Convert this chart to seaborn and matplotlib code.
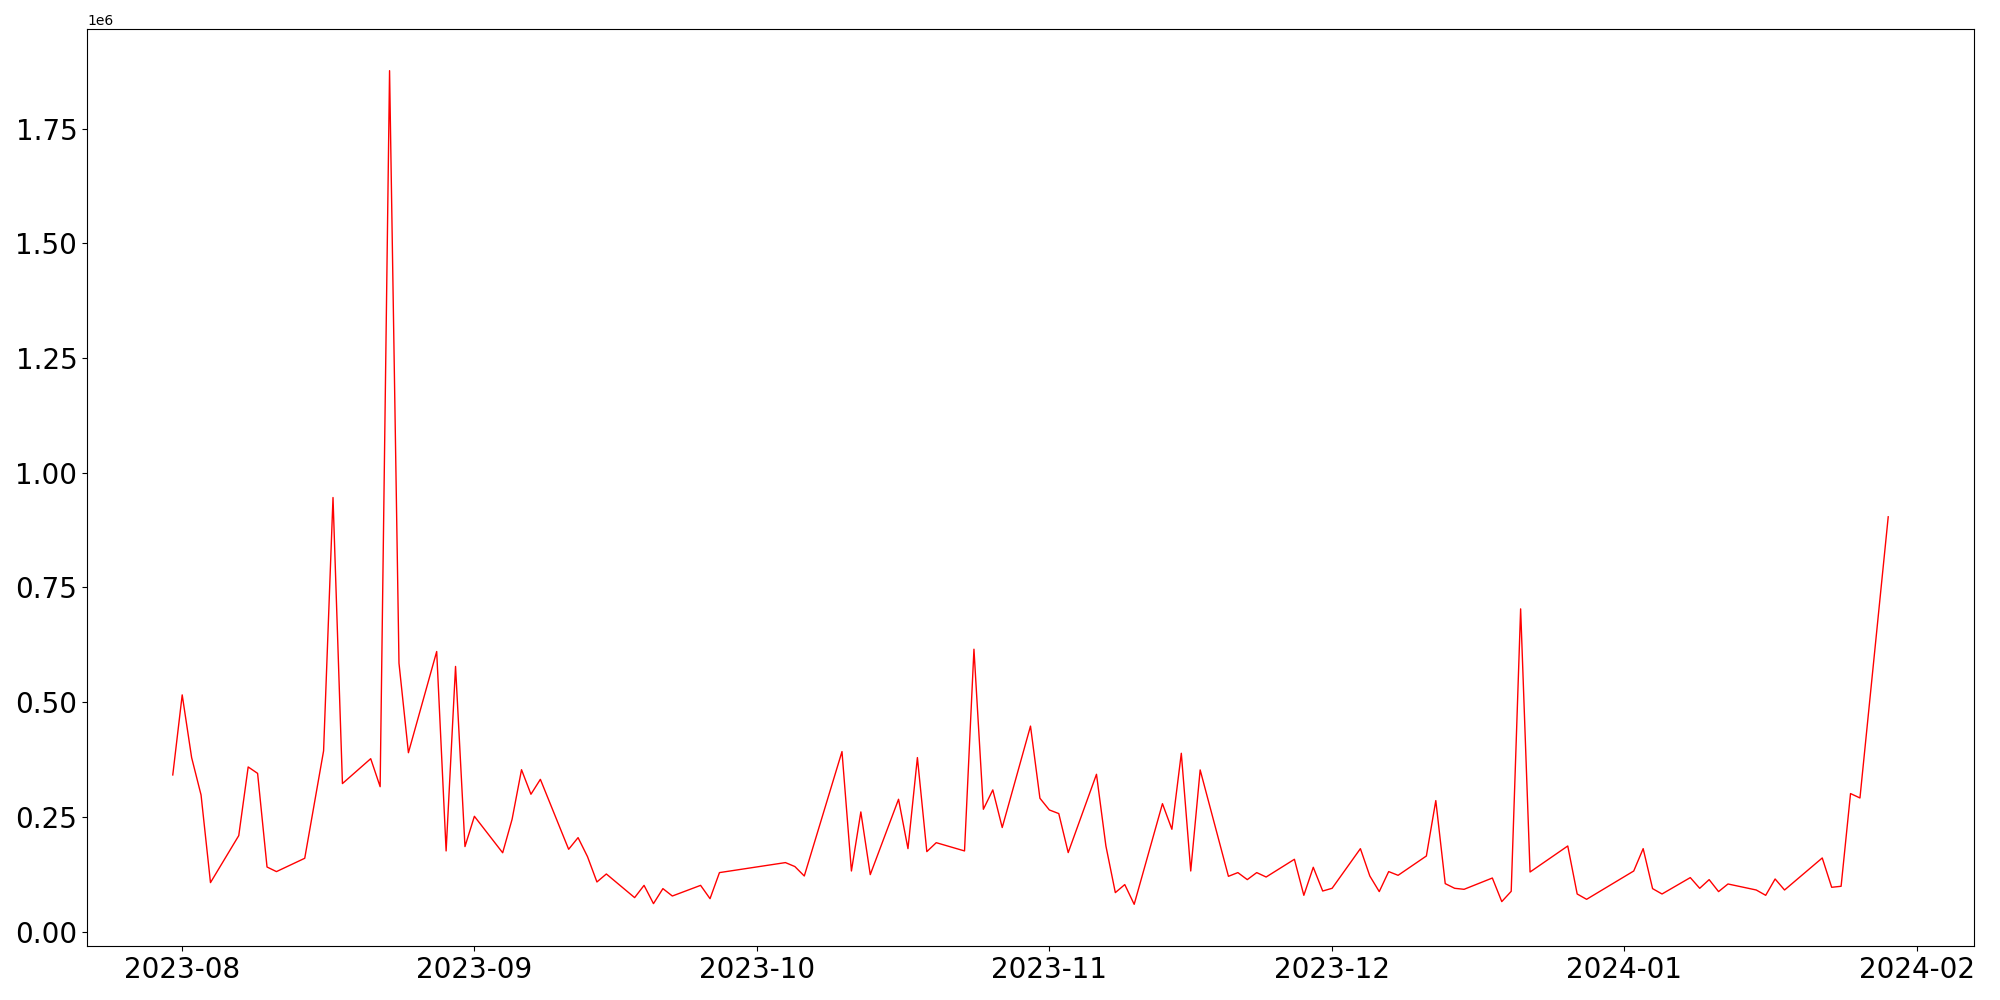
import matplotlib
matplotlib.use("Agg")
import matplotlib.pyplot as plt
import seaborn as sns
import pandas as pd

dates = ["2023-07-31","2023-08-01","2023-08-02","2023-08-03","2023-08-04","2023-08-07","2023-08-08","2023-08-09","2023-08-10","2023-08-11",
         "2023-08-14","2023-08-16","2023-08-17","2023-08-18","2023-08-21","2023-08-22","2023-08-23","2023-08-24","2023-08-25","2023-08-28",
         "2023-08-29","2023-08-30","2023-08-31","2023-09-01","2023-09-04","2023-09-05","2023-09-06","2023-09-07","2023-09-08","2023-09-11",
         "2023-09-12","2023-09-13","2023-09-14","2023-09-15","2023-09-18","2023-09-19","2023-09-20","2023-09-21","2023-09-22","2023-09-25",
         "2023-09-26","2023-09-27","2023-10-04","2023-10-05","2023-10-06","2023-10-10","2023-10-11","2023-10-12","2023-10-13","2023-10-16",
         "2023-10-17","2023-10-18","2023-10-19","2023-10-20","2023-10-23","2023-10-24","2023-10-25","2023-10-26","2023-10-27","2023-10-30",
         "2023-10-31","2023-11-01","2023-11-02","2023-11-03","2023-11-06","2023-11-07","2023-11-08","2023-11-09","2023-11-10","2023-11-13",
         "2023-11-14","2023-11-15","2023-11-16","2023-11-17","2023-11-20","2023-11-21","2023-11-22","2023-11-23","2023-11-24","2023-11-27",
         "2023-11-28","2023-11-29","2023-11-30","2023-12-01","2023-12-04","2023-12-05","2023-12-06","2023-12-07","2023-12-08","2023-12-11",
         "2023-12-12","2023-12-13","2023-12-14","2023-12-15","2023-12-18","2023-12-19","2023-12-20","2023-12-21","2023-12-22","2023-12-26",
         "2023-12-27","2023-12-28","2024-01-02","2024-01-03","2024-01-04","2024-01-05","2024-01-08","2024-01-09","2024-01-10","2024-01-11",
         "2024-01-12","2024-01-15","2024-01-16","2024-01-17","2024-01-18","2024-01-22","2024-01-23","2024-01-24","2024-01-25","2024-01-26",
         "2024-01-29"]

values = [341600, 516000, 379400, 298000, 107000, 209400, 359000, 345000, 141000, 131000,
          160000, 394000, 946000, 322800, 377000, 316000, 1876000, 585000, 390000, 610500,
          176000, 578000, 185500, 251500, 172000, 245000, 353000, 299500, 332000, 179600,
          205000, 163600, 108400, 125800, 74300, 101000, 61200, 93900, 77800, 101000,
          72000, 128800, 150600, 142000, 121400, 392500, 132300, 261000, 124400, 288600,
          181000, 379400, 174500, 194000, 176000, 615500, 266800, 309000, 227000, 448000,
          290800, 265300, 257400, 172400, 343000, 186800, 85200, 102700, 59700, 279000,
          223200, 388800, 132300, 352500, 120700, 128800, 113500, 128800, 119200, 157800,
          79300, 140400, 88700, 94600, 181000, 121400, 87400, 131000, 122900, 165000,
          285700, 104800, 94600, 92400, 117000, 65600, 88000, 703400, 130100, 186800,
          82200, 70600, 132300, 181000, 93900, 82200, 117900, 94600, 113500, 87400,
          104000, 90900, 79300, 114900, 90900, 160700, 96800, 99000, 301000, 291400,
          904000]

df = pd.DataFrame({"date": pd.to_datetime(dates), "value": values})

fig, ax = plt.subplots(figsize=(20, 10), dpi=100)
sns.lineplot(data=df, x="date", y="value", color="red", linewidth=1.0, ax=ax)
ax.set_xlabel("")
ax.set_ylabel("")
plt.xticks(fontsize=20)
plt.yticks(fontsize=20)
fig.subplots_adjust(left=0.0435, right=0.987, top=0.971, bottom=0.054)
fig.savefig("out.png", dpi=100)
